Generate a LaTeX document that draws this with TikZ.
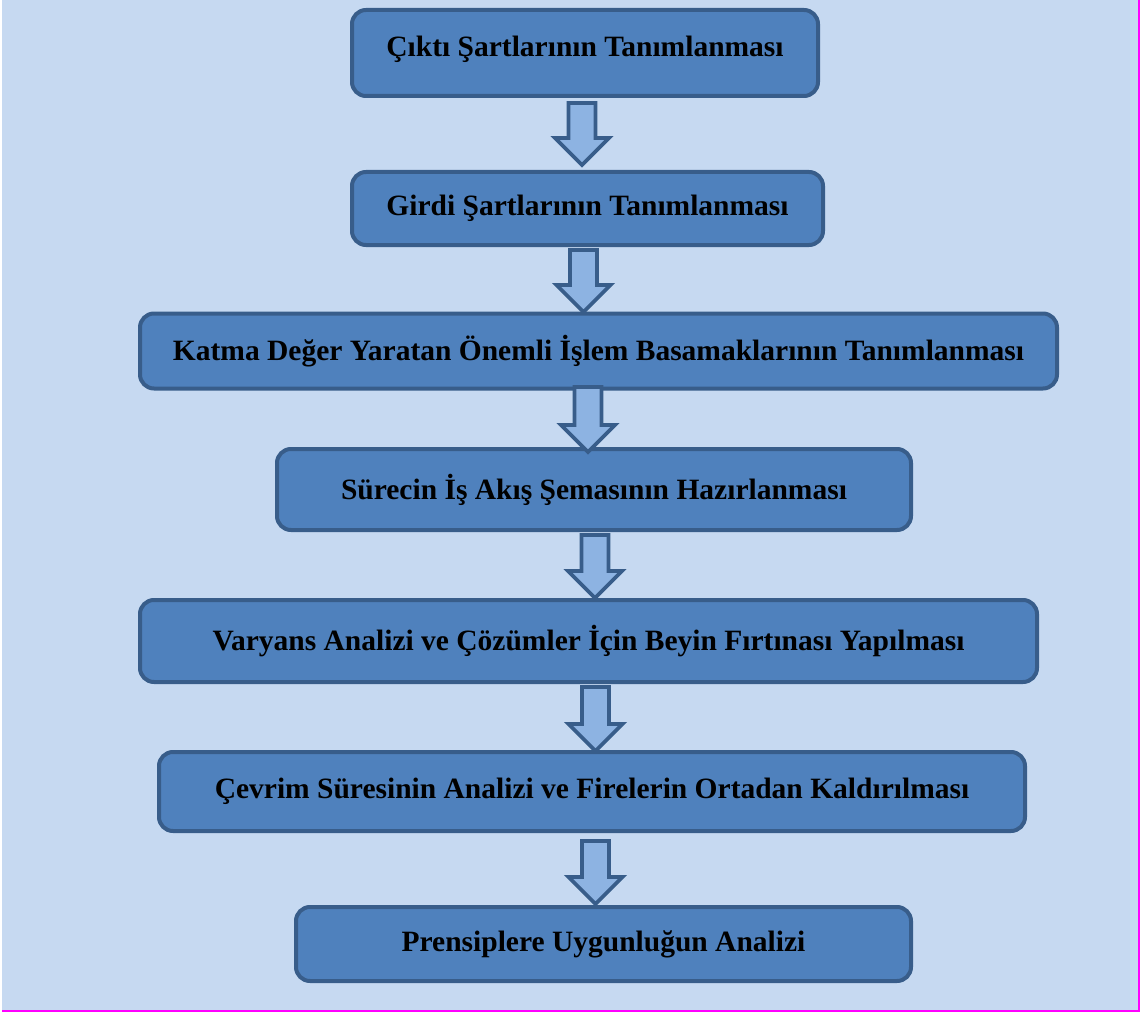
\documentclass[tikz,border=0pt]{standalone}
\usepackage{fontspec}
\setmainfont{Liberation Serif}
\usetikzlibrary{calc}

\definecolor{pagebg}{HTML}{C6D9F1}
\definecolor{boxfill}{HTML}{4F81BD}
\definecolor{boxline}{HTML}{385D8A}
\definecolor{arrowfill}{HTML}{8DB3E2}
\definecolor{frameline}{HTML}{FF00FF}

\tikzset{
  stepbox/.style={draw=boxline, fill=boxfill, line width=4pt, rounded corners=14pt,
    font=\fontsize{29.5}{34}\selectfont\bfseries, text=black, inner sep=0pt},
  blockarrow/.style={draw=boxline, fill=arrowfill, line width=3.8pt, line join=miter}
}

\begin{document}
\begin{tikzpicture}[x=1pt,y=-1pt]
    % Page area and frame
    \useasboundingbox (0,0) rectangle (1141,1014);
    \fill[pagebg] (1.5,0) rectangle (1138,1010);
    \draw[frameline, line width=2pt] (1138.5,0) -- (1138.5,1011) -- (1.5,1011);

    % The steps
    \node[stepbox, minimum width=466pt, minimum height=86pt, text depth=14pt] (cikti) at (585,53) {Çıktı Şartlarının Tanımlanması};
    \node[stepbox, minimum width=471pt, minimum height=73pt] (girdi) at (587.5,208.5) {Girdi Şartlarının Tanımlanması};
    \node[stepbox, minimum width=917pt, minimum height=75pt] (katma) at (598.5,351) {Katma Değer Yaratan Önemli İşlem Basamaklarının Tanımlanması};
    \node[stepbox, minimum width=634pt, minimum height=81pt] (akis) at (594,489.5) {Sürecin İş Akış Şemasının Hazırlanması};
    \node[stepbox, minimum width=897pt, minimum height=82pt] (varyans) at (588.5,641) {Varyans Analizi ve Çözümler İçin Beyin Fırtınası Yapılması};
    \node[stepbox, minimum width=866pt, minimum height=79pt] (cevrim) at (592,791.5) {Çevrim Süresinin Analizi ve Firelerin Ortadan Kaldırılması};
    \node[stepbox, minimum width=615pt, minimum height=74pt] (prensip) at (603.5,944) {Prensiplere Uygunluğun Analizi};

    % Block arrows between the steps (x / shaft top / tip)
    \foreach \x/\t/\b in {582/103/165, 583.5/250/312, 588/387/452, 595/535/598, 595.5/687/751, 595.5/841/904}{
        \draw[blockarrow] (\x-13.5,\t) -- (\x+13.5,\t) -- (\x+13.5,\b-27) -- (\x+27,\b-27)
            -- (\x,\b) -- (\x-27,\b-27) -- (\x-13.5,\b-27) -- cycle;
    }
\end{tikzpicture}
\end{document}
